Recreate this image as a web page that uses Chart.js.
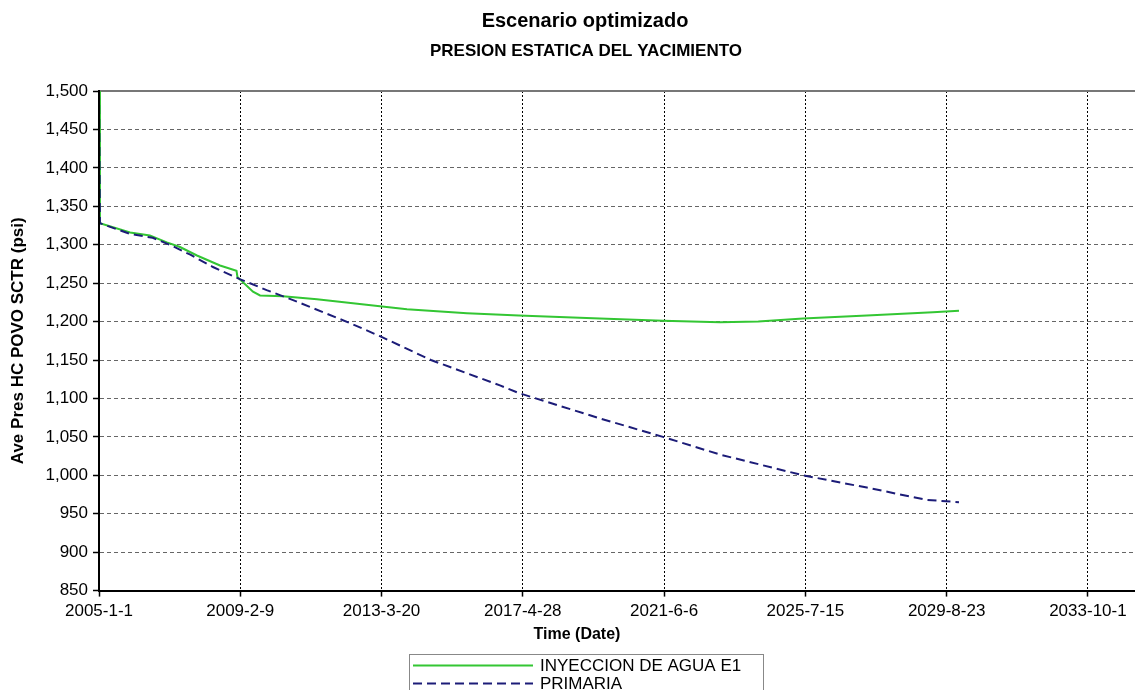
<!DOCTYPE html>
<html><head><meta charset="utf-8">
<script src="https://cdn.jsdelivr.net/npm/chart.js@4.4.1/dist/chart.umd.min.js"></script>
<style>html,body{margin:0;padding:0;background:#fff;}</style>
</head><body>
<canvas id="c" width="1135" height="690" style="width:1135px;height:690px;display:block"></canvas>
<script>
// Days since 2005-1-1
const injDays   = [0, 10, 330, 540, 720, 860, 1040, 1285, 1460, 1470, 1635, 1710, 1953, 2314, 2983, 3270, 3907, 4458, 5319, 5988, 6593, 7000, 7474, 8153, 8854, 9131];
const injValues = [1500, 1328, 1316, 1312, 1303, 1297, 1286, 1273, 1266, 1258, 1239, 1234, 1233, 1229, 1220, 1216, 1211, 1208, 1204, 1201, 1199, 1200, 1204, 1208, 1212, 1214];
const priDays   = [0, 10, 330, 570, 750, 970, 1210, 1500, 1780, 2060, 2665, 2983, 3524, 4257, 4458, 5319, 5988, 6593, 7474, 8153, 8790, 9131];
const priValues = [1500, 1328, 1314, 1309, 1300, 1287, 1271, 1255, 1241, 1228, 1198, 1181, 1150, 1117, 1107, 1074, 1050, 1027, 1000, 984, 968, 965];
const xTickDays   = [0, 1500, 3000, 4500, 6000, 7500, 9000, 10500];
const xTickLabels = ['2005-1-1', '2009-2-9', '2013-3-20', '2017-4-28', '2021-6-6', '2025-7-15', '2029-8-23', '2033-10-1'];
const seriesNames = ['INYECCION DE AGUA E1', 'PRIMARIA'];
const titleText = 'Escenario optimizado';
const subtitleText = 'PRESION ESTATICA DEL YACIMIENTO';
const xTitleText = 'Time (Date)';
const yTitleText = 'Ave Pres HC POVO SCTR (psi)';

const FONT = '"Liberation Sans", Arial, Helvetica, sans-serif';

const decor = {
  id: 'decor',
  beforeDatasetsDraw(chart) {
    const ctx = chart.ctx, a = chart.chartArea;
    ctx.save();
    ctx.strokeStyle = '#777';
    ctx.lineWidth = 2;
    ctx.setLineDash([]);
    ctx.beginPath(); ctx.moveTo(a.left, a.top); ctx.lineTo(a.right, a.top); ctx.stroke();
    ctx.restore();
  },
  afterDraw(chart) {
    const ctx = chart.ctx;
    ctx.save();
    ctx.fillStyle = '#000';
    ctx.textAlign = 'center';
    ctx.textBaseline = 'middle';
    ctx.font = 'bold 20px ' + FONT;
    ctx.fillText(titleText, 585, 21);
    ctx.font = 'bold 17px ' + FONT;
    ctx.fillText(subtitleText, 586, 51);
    ctx.font = 'bold 16px ' + FONT;
    ctx.fillText(xTitleText, 577, 635);
    // legend
    ctx.strokeStyle = '#888';
    ctx.lineWidth = 1;
    ctx.strokeRect(409.5, 654.5, 354, 40);
    ctx.textAlign = 'left';
    ctx.font = '17px ' + FONT;
    chart.data.datasets.forEach((ds, i) => {
      const y = 665 + i * 18;
      ctx.save();
      ctx.strokeStyle = ds.borderColor;
      ctx.lineWidth = ds.borderWidth;
      ctx.setLineDash(ds.borderDash || []);
      ctx.beginPath(); ctx.moveTo(413, y + 0.5); ctx.lineTo(533, y + 0.5); ctx.stroke();
      ctx.restore();
      ctx.fillStyle = '#000';
      ctx.fillText(ds.label, 540, y + 1);
    });
    ctx.restore();
  }
};

new Chart(document.getElementById('c'), {
  type: 'line',
  data: {
    datasets: [
      {
        label: seriesNames[0],
        data: injDays.map((d, i) => ({x: d, y: injValues[i]})),
        borderColor: '#33c633',
        borderWidth: 2,
        pointRadius: 0,
        tension: 0,
        fill: false,
        order: 1
      },
      {
        label: seriesNames[1],
        data: priDays.map((d, i) => ({x: d, y: priValues[i]})),
        borderColor: '#1c1c78',
        borderWidth: 2,
        borderDash: [9, 5],
        pointRadius: 0,
        tension: 0,
        fill: false,
        order: 0
      }
    ]
  },
  options: {
    responsive: false,
    animation: false,
    devicePixelRatio: 1,
    layout: {padding: {top: 91, bottom: 63, left: 0, right: 0}},
    plugins: {legend: {display: false}, title: {display: false}, tooltip: {enabled: false}},
    scales: {
      x: {
        type: 'linear',
        min: 0,
        max: 11000,
        afterBuildTicks: axis => { axis.ticks = xTickDays.map(v => ({value: v})); },
        ticks: {
          autoSkip: false,
          maxRotation: 0,
          padding: 5,
          color: '#000',
          font: {family: FONT, size: 17},
          callback: (v, i) => xTickLabels[i]
        },
        grid: {color: '#000', lineWidth: 1, tickLength: 6, tickColor: '#000', tickWidth: 1.5, tickBorderDash: []},
        border: {display: true, color: '#000', width: 2, dash: [2, 2], z: 1}
      },
      y: {
        min: 850,
        max: 1500,
        afterFit: axis => { axis.width = 99; },
        ticks: {
          stepSize: 50,
          padding: 5,
          color: '#000',
          font: {family: FONT, size: 17},
          callback: v => Number(v).toLocaleString('en-US')
        },
        title: {display: true, text: yTitleText, color: '#000', font: {family: FONT, size: 17, weight: 'bold'}, padding: {top: 8, bottom: 0}},
        grid: {color: '#666', lineWidth: 1, tickLength: 6, tickColor: '#000', tickWidth: 1.5, tickBorderDash: []},
        border: {display: true, color: '#000', width: 2, dash: [4, 3], z: 1}
      }
    }
  },
  plugins: [decor]
});
</script>
</body></html>
